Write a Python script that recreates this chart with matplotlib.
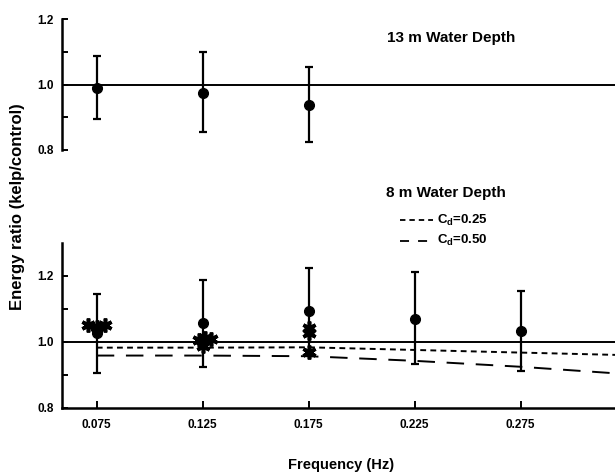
import matplotlib
matplotlib.use("Agg")
import matplotlib.pyplot as plt
from matplotlib.lines import Line2D

plt.rcParams['font.family'] = ['Liberation Sans', 'DejaVu Sans']
plt.rcParams['font.weight'] = 'bold'
plt.rcParams['mathtext.fontset'] = 'custom'
plt.rcParams['mathtext.rm'] = 'Liberation Sans:bold'
plt.rcParams['mathtext.bf'] = 'Liberation Sans:bold'
plt.rcParams['mathtext.it'] = 'Liberation Sans:bold'

# ---- data ----
# 13 m water depth
freq13 = [0.075, 0.125, 0.175]
ratio13 = [0.990, 0.973, 0.937]
upper13 = [1.086, 1.098, 1.054]
lower13 = [0.894, 0.854, 0.823]

# 8 m water depth
freq8 = [0.075, 0.125, 0.175, 0.225, 0.275]
ratio8 = [1.027, 1.056, 1.093, 1.069, 1.033]
upper8 = [1.145, 1.187, 1.224, 1.212, 1.154]
lower8 = [0.906, 0.924, 0.960, 0.932, 0.912]

# individual (star) estimates, 8 m
star_freq = [0.071, 0.075, 0.079, 0.123, 0.126, 0.129, 0.125, 0.175, 0.175, 0.175]
star_ratio = [1.050, 1.045, 1.050, 1.005, 1.012, 1.008, 0.988, 1.042, 1.026, 0.970]

# model curves
model_freq = [0.075, 0.125, 0.175, 0.225, 0.275, 0.320]
cd025 = [0.982, 0.982, 0.983, 0.975, 0.967, 0.960]
cd050 = [0.958, 0.958, 0.956, 0.942, 0.924, 0.904]

xticks = [0.075, 0.125, 0.175, 0.225, 0.275]
xticklabels = ['0.075', '0.125', '0.175', '0.225', '0.275']
yticks = [0.8, 0.9, 1.0, 1.1, 1.2]
yticklabels = ['0.8', '', '1.0', '', '1.2']

W, H = 615, 472
fig = plt.figure(figsize=(W / 100, H / 100), dpi=100)

xlim = (0.0586, 0.3195)
left = 62 / W
width = 1 - left

# top panel
ax1 = fig.add_axes([left, 1 - 150 / H, width, 131 / H])
# bottom panel
ax2 = fig.add_axes([left, 1 - 407.7 / H, width, 165 / H])

for ax in (ax1, ax2):
    ax.set_xlim(*xlim)
    ax.spines['top'].set_visible(False)
    ax.spines['right'].set_visible(False)
    ax.spines['left'].set_linewidth(1.8)
    ax.spines['bottom'].set_linewidth(1.8)
    ax.axhline(1.0, color='black', lw=1.4, zorder=1)
    ax.set_yticks(yticks)
    ax.set_yticklabels(yticklabels)
    ax.tick_params(axis='y', direction='in', length=4, width=1.4, pad=6,
                   labelsize=8.5)
    for lab in ax.get_yticklabels():
        lab.set_fontweight('bold')

ax1.set_ylim(0.8, 1.2)
ax1.spines['bottom'].set_visible(False)
ax1.set_xticks([])

ax2.set_ylim(0.8, 1.3)
ax2.spines['left'].set_bounds(0.8, 1.3)
ax2.set_xticks(xticks)
ax2.set_xticklabels(xticklabels)
ax2.tick_params(axis='x', direction='in', length=5, width=1.4, pad=8,
                labelsize=8.5)

# error bars top
err13 = [[r - l for r, l in zip(ratio13, lower13)],
         [u - r for r, u in zip(ratio13, upper13)]]
ax1.errorbar(freq13, ratio13, yerr=err13, fmt='o', color='black', ms=7,
             elinewidth=1.6, capsize=3, capthick=1.6, zorder=3)

# error bars bottom
err8 = [[r - l for r, l in zip(ratio8, lower8)],
        [u - r for r, u in zip(ratio8, upper8)]]
ax2.errorbar(freq8, ratio8, yerr=err8, fmt='o', color='black', ms=7,
             elinewidth=1.6, capsize=3, capthick=1.6, zorder=3)
ax2.plot(star_freq, star_ratio, linestyle='none', marker=(6, 2, 0),
         ms=10, mew=2.6, color='black', zorder=4)

ax2.plot(model_freq, cd025, color='black', lw=1.4, dashes=(3, 2.2), zorder=2)
ax2.plot(model_freq, cd050, color='black', lw=1.4, dashes=(9, 6), zorder=2)

# texts
fig.text(387 / W, 1 - 38 / H, '13 m Water Depth', fontsize=11,
         fontweight='bold', va='center', ha='left')
fig.text(386 / W, 1 - 193 / H, '8 m Water Depth', fontsize=11,
         fontweight='bold', va='center', ha='left')

# legend drawn manually in figure coords
fig.add_artist(Line2D([400 / W, 433 / W], [1 - 220.5 / H, 1 - 220.5 / H],
                      color='black', lw=1.3, dashes=(3, 2.2)))
fig.add_artist(Line2D([400 / W, 433 / W], [1 - 240.5 / H, 1 - 240.5 / H],
                      color='black', lw=1.3, dashes=(5, 5)))
fig.text(437 / W, 1 - 220.5 / H, r'C$_{\mathbf{d}}$=0.25', fontsize=9.5,
         fontweight='bold', va='center', ha='left')
fig.text(437 / W, 1 - 240.5 / H, r'C$_{\mathbf{d}}$=0.50', fontsize=9.5,
         fontweight='bold', va='center', ha='left')

fig.text(341 / W, 1 - 465 / H, 'Frequency (Hz)', fontsize=10.5,
         fontweight='bold', va='center', ha='center')
fig.text(18 / W, 1 - 207 / H, 'Energy ratio (kelp/control)', fontsize=12,
         fontweight='bold', va='center', ha='center', rotation=90)

fig.savefig('out.png', dpi=100)
